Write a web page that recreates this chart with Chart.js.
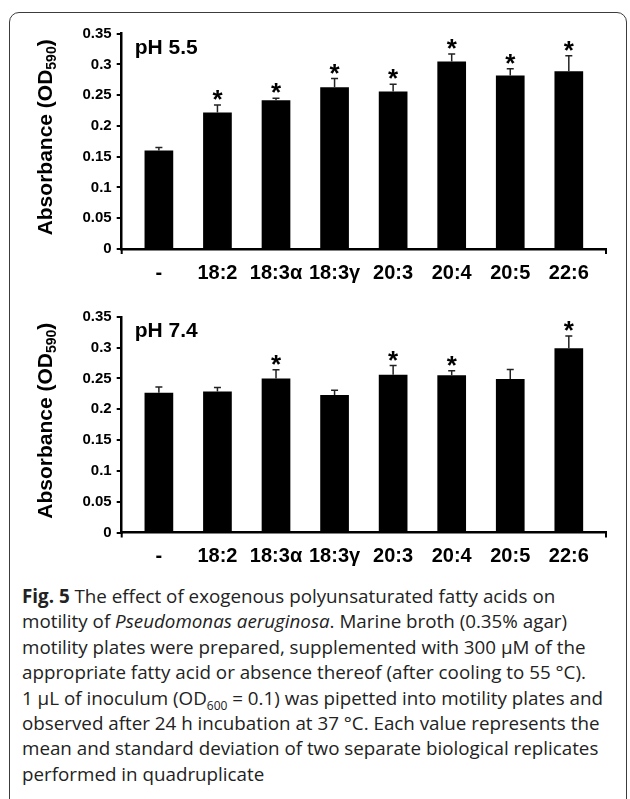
<!DOCTYPE html>
<html>
<head>
<meta charset="utf-8">
<script src="https://cdn.jsdelivr.net/npm/chart.js@4/dist/chart.umd.min.js"></script>
<style>
  body { margin: 0; background: #fff; width: 630px; height: 799px; overflow: hidden; position: relative; }
  #frame { position: absolute; left: 9px; top: 12px; width: 618px; height: 800px; border: 1.5px solid #3c3c3c; border-radius: 10px; box-sizing: border-box; }
  .chartbox { position: absolute; left: 0; width: 630px; height: 290px; }
  #boxTop { top: 0; }
  #boxBottom { top: 290px; }
  #caption { position: absolute; left: 22px; top: 584px; font-family: "Open Sans", sans-serif; font-size: 18.8px; line-height: 25.4px; color: #222; white-space: nowrap; }
  #caption sub { font-size: 12px; line-height: 0; }
</style>
</head>
<body>
<div id="frame"></div>
<div class="chartbox" id="boxTop"><canvas id="chartTop"></canvas></div>
<div class="chartbox" id="boxBottom"><canvas id="chartBottom"></canvas></div>
<div id="caption">
<b>Fig. 5</b> The effect of exogenous polyunsaturated fatty acids on<br>
motility of <i>Pseudomonas aeruginosa</i>. Marine broth (0.35% agar)<br>
motility plates were prepared, supplemented with 300 µM of the<br>
appropriate fatty acid or absence thereof (after cooling to 55 °C).<br>
1 µL of inoculum (OD<sub>600</sub> = 0.1) was pipetted into motility plates and<br>
observed after 24 h incubation at 37 °C. Each value represents the<br>
mean and standard deviation of two separate biological replicates<br>
performed in quadruplicate
</div>
<script>
// fatty acid treatments ("-" = no fatty acid)
var categories = ['-', '18:2', '18:3α', '18:3γ', '20:3', '20:4', '20:5', '22:6'];
var yTicks = ['0', '0.05', '0.1', '0.15', '0.2', '0.25', '0.3', '0.35'];

// pH 5.5
var mean55 = [0.160, 0.222, 0.242, 0.263, 0.256, 0.305, 0.282, 0.289];
var sd55 = [0.005, 0.012, 0.003, 0.014, 0.012, 0.012, 0.011, 0.025];
var sig55 = [1, 2, 3, 4, 5, 6, 7];

// pH 7.4
var mean74 = [0.227, 0.229, 0.250, 0.223, 0.256, 0.255, 0.249, 0.299];
var sd74 = [0.009, 0.0065, 0.014, 0.008, 0.015, 0.0075, 0.0155, 0.020];
var sig74 = [2, 4, 5, 7];

var FONT = "'Liberation Sans', Arial, sans-serif";
Chart.defaults.font.family = FONT;

var extras = {
    id: 'extras',
    afterDatasetsDraw: function(chart) {
        var ctx = chart.ctx;
        var o = chart.options.plugins.extras;
        var ys = chart.scales.y;
        var meta = chart.getDatasetMeta(0);
        var area = chart.chartArea;

        ctx.save();
        // error bars (upper half, the lower half is hidden by the black bar)
        ctx.strokeStyle = '#222';
        ctx.lineWidth = 1.5;
        for (var i = 0; i < o.mean.length; i++) {
            var x = meta.data[i].x;
            var yBar = ys.getPixelForValue(o.mean[i]);
            var yTop = ys.getPixelForValue(o.mean[i] + o.sd[i]);
            ctx.beginPath();
            ctx.moveTo(x, yBar);
            ctx.lineTo(x, yTop);
            ctx.moveTo(x - 3.5, yTop);
            ctx.lineTo(x + 3.5, yTop);
            ctx.stroke();
        }

        // significance stars
        ctx.fillStyle = '#000';
        ctx.font = 'bold 26px ' + FONT;
        ctx.textAlign = 'center';
        ctx.textBaseline = 'alphabetic';
        o.stars.forEach(function(i) {
            var x = meta.data[i].x;
            var yTop = ys.getPixelForValue(o.mean[i] + o.sd[i]);
            ctx.fillText('*', x, yTop + 3);
        });

        // small ticks at both ends of the x axis
        ctx.strokeStyle = '#000';
        ctx.lineWidth = 2;
        ctx.beginPath();
        ctx.moveTo(area.left, area.bottom);
        ctx.lineTo(area.left, area.bottom + 5);
        ctx.moveTo(area.right, area.bottom);
        ctx.lineTo(area.right, area.bottom + 5);
        ctx.stroke();

        // panel label
        ctx.textAlign = 'left';
        ctx.font = 'bold 21px ' + FONT;
        ctx.fillText(o.label, area.left + 13, area.top + 20);

        // y axis title with subscript
        var cy = (area.top + area.bottom) / 2 - 4;
        ctx.translate(52, cy);
        ctx.rotate(-Math.PI / 2);
        var big = 'bold 21px ' + FONT, small = 'bold 14px ' + FONT;
        ctx.font = big;
        var w1 = ctx.measureText('Absorbance (OD').width;
        var w3 = ctx.measureText(')').width;
        ctx.font = small;
        var w2 = ctx.measureText('590').width;
        var x0 = -(w1 + w2 + w3) / 2;
        ctx.font = big;
        ctx.fillText('Absorbance (OD', x0, 0);
        ctx.font = small;
        ctx.fillText('590', x0 + w1, 4);
        ctx.font = big;
        ctx.fillText(')', x0 + w1 + w2, 0);
        ctx.restore();
    }
};

function buildChart(id, mean, sd, stars, label, padTop, xHeight) {
    var points = mean.map(function(v, i) { return {x: i, y: v}; });
    return new Chart(document.getElementById(id), {
        type: 'bar',
        data: {
            datasets: [{
                data: points,
                backgroundColor: '#000',
                barPercentage: 0.49,
                categoryPercentage: 1
            }]
        },
        options: {
            responsive: true,
            maintainAspectRatio: false,
            animation: false,
            layout: { padding: { top: padTop, right: 24, left: 0, bottom: 0 } },
            plugins: {
                legend: { display: false },
                tooltip: { enabled: false },
                extras: { mean: mean, sd: sd, stars: stars, label: label }
            },
            scales: {
                x: {
                    type: 'linear',
                    offset: false,
                    min: -0.635,
                    max: 7.635,
                    grid: { display: false, offset: false },
                    border: { color: '#000', width: 2.5 },
                    afterBuildTicks: function(s) {
                        s.ticks = categories.map(function(c, i) { return {value: i}; });
                    },
                    afterFit: function(s) { s.height = xHeight; },
                    ticks: {
                        autoSkip: false,
                        maxRotation: 0,
                        padding: 4,
                        color: '#000',
                        font: { size: 20, weight: 'bold' },
                        callback: function(v) { return categories[v]; }
                    }
                },
                y: {
                    min: 0,
                    max: 0.35,
                    afterBuildTicks: function(s) {
                        s.ticks = yTicks.map(function(t) { return {value: Number(t)}; });
                    },
                    afterFit: function(s) { s.width = 121.7; },
                    grid: { drawOnChartArea: false, tickLength: 5, color: '#000', lineWidth: 2 },
                    border: { color: '#000', width: 2.5 },
                    ticks: {
                        padding: 5,
                        color: '#000',
                        font: { size: 15, weight: 'bold' },
                        callback: function(v, i) { return yTicks[i]; }
                    }
                }
            }
        },
        plugins: [extras]
    });
}

buildChart('chartTop', mean55, sd55, sig55, 'pH 5.5', 33.7, 41);
buildChart('chartBottom', mean74, sd74, sig74, 'pH 7.4', 26.8, 47.4);
</script>
</body>
</html>
